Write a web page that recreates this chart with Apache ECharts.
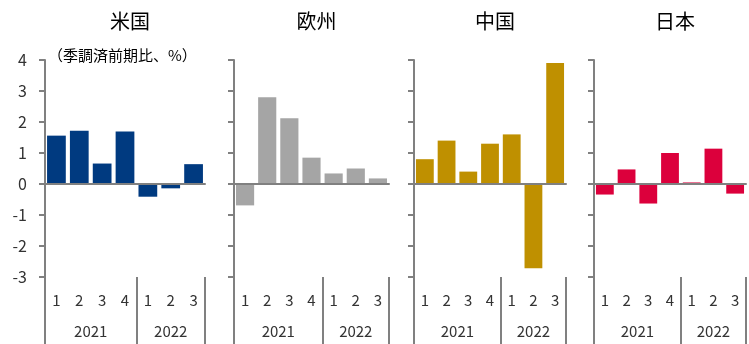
<!DOCTYPE html>
<html lang="ja">
<head>
    <meta charset="utf-8">
    <title>実質GDP成長率</title>
    <script type="text/javascript" src="https://cdn.jsdelivr.net/npm/echarts@6/dist/echarts.min.js"></script>
    <style>
        html, body { margin: 0; padding: 0; background: #fff; }
        #chart { width: 749px; height: 344px; }
    </style>
</head>
<body>
<div id="chart"></div>
<script type="text/javascript">
    // データ
    var regions = ['米国', '欧州', '中国', '日本'];
    var quarters = ['1', '2', '3', '4', '1', '2', '3'];
    var years = ['2021', '2022'];
    var yearSpans = [4, 3];           // 各年の四半期数
    var usValues = [1.56, 1.72, 0.66, 1.69, -0.41, -0.14, 0.64];
    var euValues = [-0.69, 2.80, 2.12, 0.85, 0.34, 0.50, 0.18];
    var cnValues = [0.80, 1.40, 0.40, 1.30, 1.60, -2.72, 3.90];
    var jpValues = [-0.34, 0.47, -0.63, 1.00, 0.05, 1.14, -0.31];
    var yTicks = [-3, -2, -1, 0, 1, 2, 3, 4];
    var unitNote = '（季調済前期比、%）';

    var seriesValues = [usValues, euValues, cnValues, jpValues];
    var colors = ['#003A80', '#A5A5A5', '#BF9000', '#DC003C'];
    // パネルの位置 (left, width)
    var panels = [[45, 160], [234, 155], [414, 152], [594, 152]];

    var axisColor = '#808080';
    var font = "'Noto Sans CJK JP', 'Noto Sans', sans-serif";

    // 年ラベルの中心位置、区切り位置
    var yearCenters = [], yearBounds = [0];
    var acc = 0;
    for (var k = 0; k < yearSpans.length; k++) {
        yearCenters.push(acc + yearSpans[k] / 2);
        acc += yearSpans[k];
        yearBounds.push(acc);
    }

    var chart = echarts.init(document.getElementById('chart'));

    var grids = [], xAxes = [], yAxes = [], series = [], titles = [];
    for (var i = 0; i < regions.length; i++) {
        var left = panels[i][0], width = panels[i][1];
        grids.push({left: left, width: width, top: 60, bottom: 67});

        titles.push({
            text: regions[i],
            left: left + width / 2,
            top: 6,
            textAlign: 'center',
            textStyle: {fontFamily: font, fontSize: 20, fontWeight: 'normal', color: '#000'}
        });

        // ゼロ線
        xAxes.push({
            type: 'category', gridIndex: i, data: quarters, position: 'bottom', z: 5,
            axisLine: {show: true, onZero: true, lineStyle: {color: axisColor, width: 2}},
            axisTick: {show: false},
            axisLabel: {show: false}
        });
        // 四半期ラベル + 年区切り線
        xAxes.push({
            type: 'category', gridIndex: i, data: quarters, position: 'bottom',
            axisLine: {show: false, onZero: false},
            axisTick: {
                show: true, length: 67, inside: false,
                interval: function (idx) { return yearBounds.indexOf(idx) >= 0; },
                lineStyle: {color: axisColor, width: 2}
            },
            axisLabel: {margin: 16, fontFamily: font, fontSize: 15, color: '#333', interval: 0}
        });
        // 年ラベル
        xAxes.push({
            type: 'value', gridIndex: i, position: 'bottom', min: 0, max: quarters.length, interval: 0.5,
            axisLine: {show: false, onZero: false},
            axisTick: {show: false},
            splitLine: {show: false},
            axisLabel: {
                margin: 47, fontFamily: font, fontSize: 15, color: '#333',
                showMinLabel: true, showMaxLabel: true,
                formatter: function (v) {
                    var j = yearCenters.indexOf(v);
                    return j >= 0 ? years[j] : '';
                }
            }
        });

        yAxes.push({
            type: 'value', gridIndex: i, min: yTicks[0], max: yTicks[yTicks.length - 1], interval: 1,
            axisLine: {show: true, lineStyle: {color: axisColor, width: 2}},
            axisTick: {show: true, length: 6, lineStyle: {color: axisColor, width: 2}},
            splitLine: {show: false},
            axisLabel: {show: i === 0, margin: 18, fontFamily: font, fontSize: 16, color: '#333'}
        });

        series.push({
            type: 'bar',
            name: regions[i],
            xAxisIndex: i * 3,
            yAxisIndex: i,
            data: seriesValues[i],
            barCategoryGap: '18%',
            itemStyle: {color: colors[i]}
        });
    }

    titles.push({
        text: unitNote,
        left: 43,
        top: 43,
        textStyle: {fontFamily: font, fontSize: 15, fontWeight: 'normal', color: '#000'}
    });

    chart.setOption({
        animation: false,
        backgroundColor: '#fff',
        title: titles,
        grid: grids,
        xAxis: xAxes,
        yAxis: yAxes,
        series: series
    });
</script>
</body>
</html>
